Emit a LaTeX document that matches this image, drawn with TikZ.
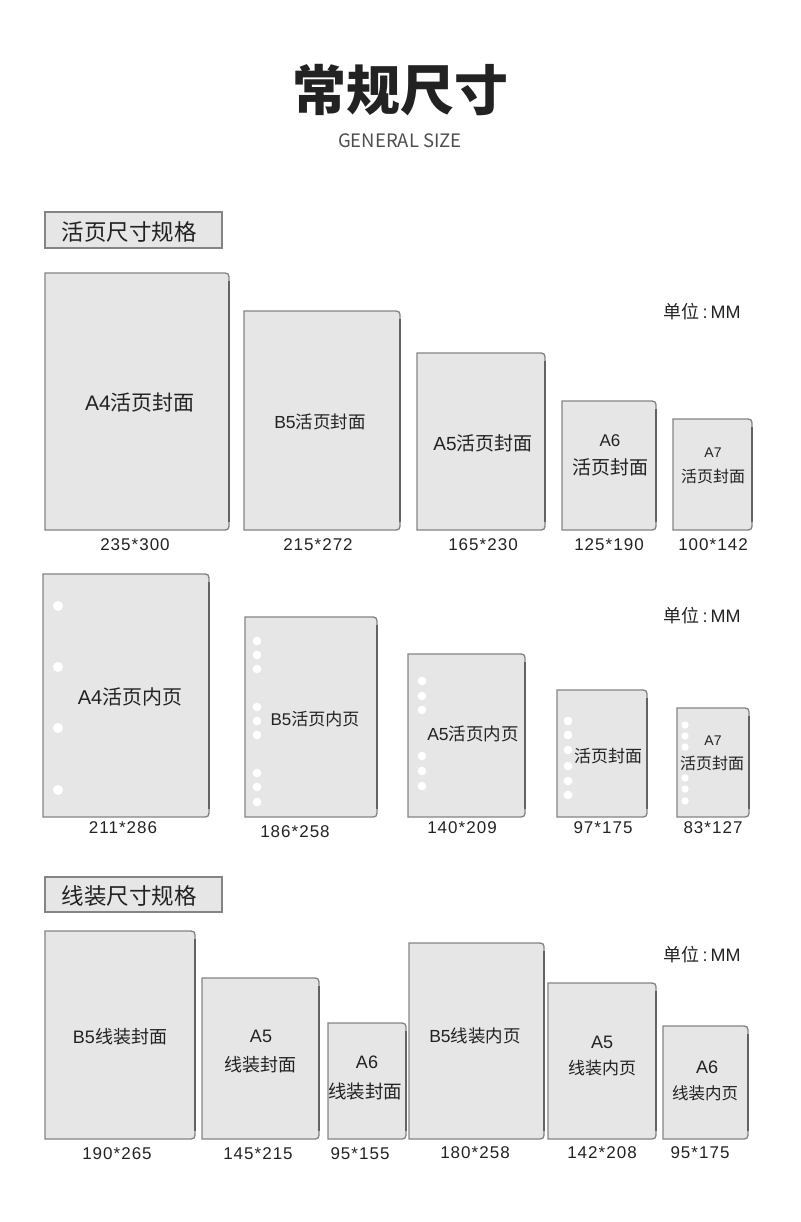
\documentclass[tikz,border=0pt]{standalone}
\usepackage{fontspec}
\setmainfont{Liberation Sans}
\newfontfamily\cjk{Noto Sans CJK SC}
\newfontfamily\digits[LetterSpace=6]{Liberation Sans}
\newcommand\zh[1]{{\cjk #1}}
\newcommand\fs[1]{\fontsize{#1}{#1}\selectfont}
\definecolor{sheetfill}{HTML}{E6E6E6}
\definecolor{sheetline}{HTML}{848484}
\definecolor{ink}{HTML}{222222}
\tikzset{
  sheet/.style={fill=sheetfill, draw=sheetline, line width=1.3pt},
  sheetedge/.style={draw=sheetline!75!black, line width=2pt},
  tab/.style={fill=sheetfill, draw=sheetline, line width=1.6pt},
  hole/.style={fill=white},
  lbl/.style={text=ink, inner sep=0pt},
  sizelbl/.style={text=ink, inner sep=0pt, font=\digits\fs{17}},
  unitlbl/.style={text=ink, inner sep=0pt, font=\fs{18}},
}
% left, top, right, bottom (pixels, y downwards)
\newcommand\sheet[4]{%
  \draw[sheet] (#1,#4) -- (#1,#2) -- ({#3-8},#2) .. controls (#3,#2) .. (#3,{#2+8})
    -- (#3,{#4-8}) .. controls (#3,#4) .. ({#3-8},#4) -- cycle;
  \draw[sheetedge] (#3,{#2+8}) -- (#3,{#4-8});}
\begin{document}
\begin{tikzpicture}[x=1pt, y=-1pt]
    \useasboundingbox (0,0) rectangle (800,1222);
        \node[lbl, font=\fs{54}] (title) at (400,90) {\zh{\bfseries 常规尺寸}};
        \node[lbl, font=\fs{18.5}, text=ink!80] (subtitle) at (400,141) {\zh{GENERAL SIZE}};
        %
        \draw[tab] (45,212) rectangle (222,248);
        \node[lbl, font=\fs{22.5}] (loosehead) at (129,232) {\zh{活页尺寸规格}};
        \draw[tab] (45,877) rectangle (222,912);
        \node[lbl, font=\fs{22.5}] (threadhead) at (129,896) {\zh{线装尺寸规格}};
        %
        \node[unitlbl] (unitA) at (702,312) {\zh{单位}\,:\,MM};
        \node[unitlbl] (unitB) at (702,616) {\zh{单位}\,:\,MM};
        \node[unitlbl] (unitC) at (702,955) {\zh{单位}\,:\,MM};
        % loose-leaf covers
        \sheet{45}{273}{229}{530}
        \sheet{244}{311}{400}{530}
        \sheet{417}{353}{545}{530}
        \sheet{562}{401}{656}{530}
        \sheet{673}{419}{752}{530}
        \node[lbl, font=\fs{21}] (a4cover) at (140,403) {A4\zh{活页封面}};
        \node[lbl, font=\fs{17.5}] (b5cover) at (320,422) {B5\zh{活页封面}};
        \node[lbl, font=\fs{19}] (a5cover) at (483,443) {A5\zh{活页封面}};
        \node[lbl, font=\fs{17}] (a6cover) at (610,441) {A6};
        \node[lbl, font=\fs{19}] (a6coverb) at (610,467) {\zh{活页封面}};
        \node[lbl, font=\fs{14}] (a7cover) at (713,453) {A7};
        \node[lbl, font=\fs{16}] (a7coverb) at (713,476) {\zh{活页封面}};
        \node[sizelbl] (a4coverSz) at (135,545) {235*300};
        \node[sizelbl] (b5coverSz) at (318,545) {215*272};
        \node[sizelbl] (a5coverSz) at (483,545) {165*230};
        \node[sizelbl] (a6coverSz) at (609,545) {125*190};
        \node[sizelbl] (a7coverSz) at (713,545) {100*142};
        % loose-leaf inner pages
        \sheet{43}{574}{209}{817}
        \foreach \y in {606,667,728,790} \fill[hole] (58,\y) circle[radius=5pt];
        \sheet{245}{617}{377}{817}
        \foreach \y in {641,655,669,707,721,735,773,787,802} \fill[hole] (257,\y) circle[radius=4.3pt];
        \sheet{408}{654}{525}{817}
        \foreach \y in {681,696,710,756,771,786} \fill[hole] (422,\y) circle[radius=4.3pt];
        \sheet{557}{690}{647}{817}
        \foreach \y in {721,735,750,766,781,795} \fill[hole] (568,\y) circle[radius=4.3pt];
        \sheet{677}{708}{749}{817}
        \foreach \y in {725,736,747,778,789,801} \fill[hole] (685,\y) circle[radius=3.7pt];
        \node[lbl, font=\fs{20}] (a4inner) at (130,697) {A4\zh{活页内页}};
        \node[lbl, font=\fs{17}] (b5inner) at (315,719) {B5\zh{活页内页}};
        \node[lbl, font=\fs{17.5}] (a5inner) at (473,734) {A5\zh{活页内页}};
        \node[lbl, font=\fs{17}] (a6inner) at (608,756) {\zh{活页封面}};
        \node[lbl, font=\fs{14}] (a7inner) at (713,741) {A7};
        \node[lbl, font=\fs{16}] (a7innerb) at (712,763) {\zh{活页封面}};
        \node[sizelbl] (a4innerSz) at (123,828) {211*286};
        \node[sizelbl] (b5innerSz) at (295,832) {186*258};
        \node[sizelbl] (a5innerSz) at (462,828) {140*209};
        \node[sizelbl] (a6innerSz) at (603,828) {97*175};
        \node[sizelbl] (a7innerSz) at (713,828) {83*127};
        % thread-bound
        \sheet{45}{931}{195}{1139}
        \sheet{202}{978}{319}{1139}
        \sheet{328}{1023}{406}{1139}
        \sheet{409}{943}{544}{1139}
        \sheet{548}{983}{656}{1139}
        \sheet{663}{1026}{748}{1139}
        \node[lbl, font=\fs{18}] (b5thread) at (120,1037) {B5\zh{线装封面}};
        \node[lbl, font=\fs{18}] (a5thread) at (261,1036) {A5};
        \node[lbl, font=\fs{18}] (a5threadb) at (260,1065) {\zh{线装封面}};
        \node[lbl, font=\fs{18}] (a6thread) at (367,1062) {A6};
        \node[lbl, font=\fs{18.5}] (a6threadb) at (365,1091) {\zh{线装封面}};
        \node[lbl, font=\fs{17.5}] (b5threadin) at (475,1036) {B5\zh{线装内页}};
        \node[lbl, font=\fs{18}] (a5threadin) at (602,1042) {A5};
        \node[lbl, font=\fs{17}] (a5threadinb) at (602,1068) {\zh{线装内页}};
        \node[lbl, font=\fs{18}] (a6threadin) at (707,1067) {A6};
        \node[lbl, font=\fs{16.5}] (a6threadinb) at (705,1093) {\zh{线装内页}};
        \node[sizelbl] (b5threadSz) at (117,1154) {190*265};
        \node[sizelbl] (a5threadSz) at (258,1154) {145*215};
        \node[sizelbl] (a6threadSz) at (360,1154) {95*155};
        \node[sizelbl] (b5threadinSz) at (475,1153) {180*258};
        \node[sizelbl] (a5threadinSz) at (602,1153) {142*208};
        \node[sizelbl] (a6threadinSz) at (700,1153) {95*175};
    \end{tikzpicture}
\end{document}
